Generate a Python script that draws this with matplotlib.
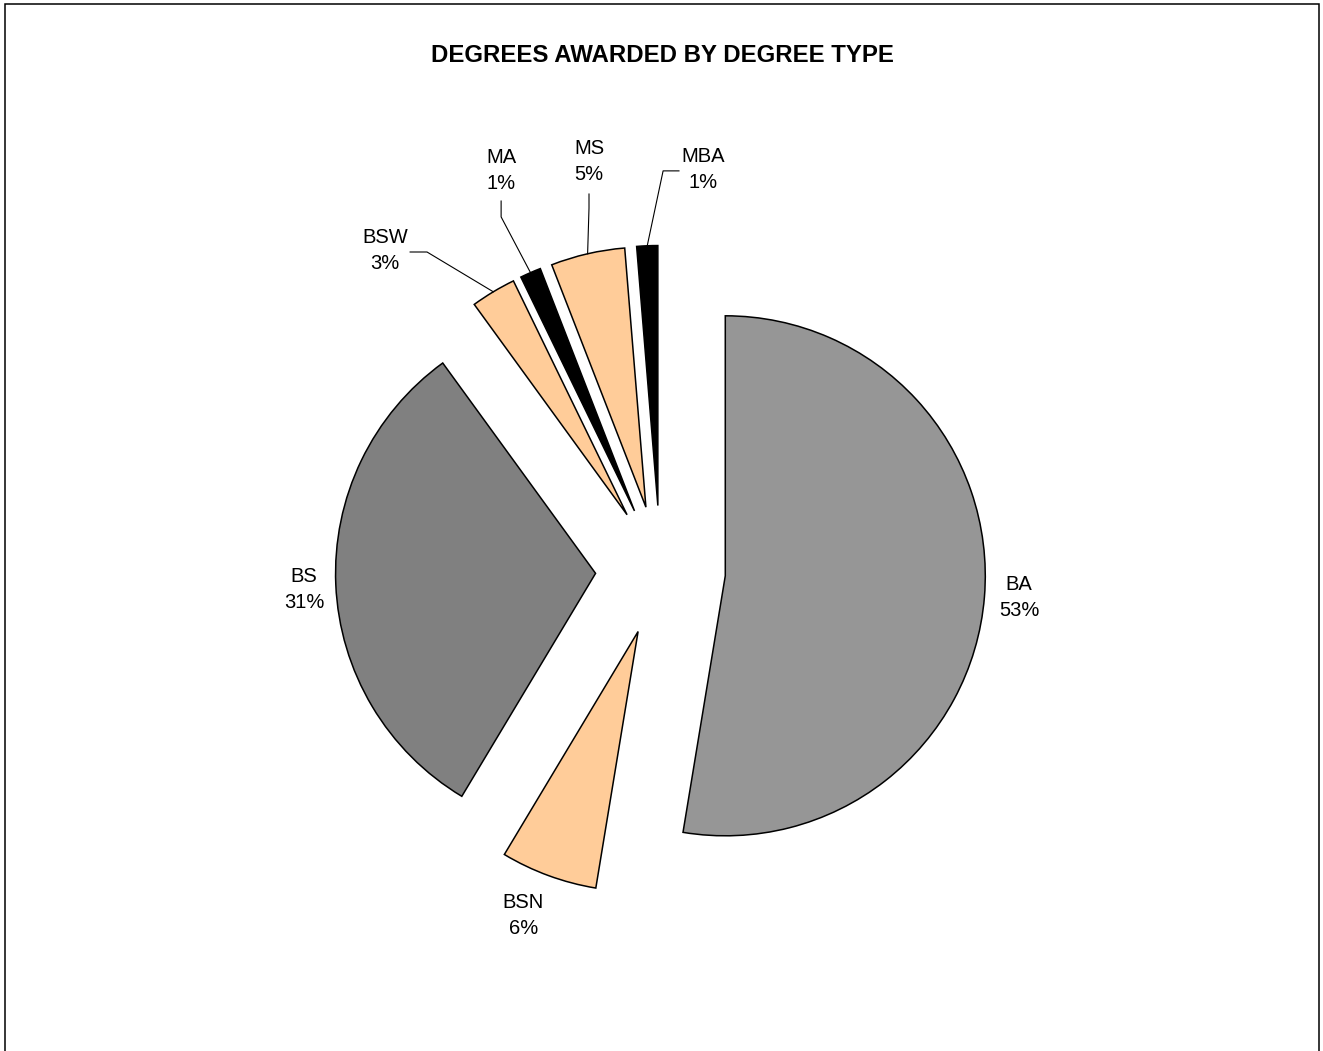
import math
import matplotlib
matplotlib.use("Agg")
import matplotlib.pyplot as plt
from matplotlib.patches import Rectangle

plt.rcParams['font.family'] = ['Liberation Sans', 'DejaVu Sans']

# degree types, clockwise from 12 o'clock
degrees = ["BA", "BSN", "BS", "BSW", "MA", "MS", "MBA"]
shares = [52.6, 6.0, 31.4, 2.8, 1.3, 4.6, 1.3]
pct_labels = ["53%", "6%", "31%", "3%", "1%", "5%", "1%"]
slice_colors = ["#969696", "#FFCC99", "#808080", "#FFCC99", "#000000", "#FFCC99", "#000000"]

# labels moved off the small slices: label centre, leader bend, leader end (data units)
moved = {
    "BSW": ((-1.060, 1.231), (-0.898, 1.225), (-0.963, 1.225)),
    "MA": ((-0.613, 1.538), (-0.613, 1.360), (-0.613, 1.421)),
    "MS": ((-0.275, 1.573), (-0.275, 1.394), (-0.275, 1.448)),
    "MBA": ((0.163, 1.542), (0.010, 1.537), (0.071, 1.537)),
}
# small hand nudges for the labels placed at the slice's mid angle
nudge = {"BSN": (-0.038, 0.008), "BS": (0.01, -0.012), "BA": (0.0, 0.008)}

fig = plt.figure(figsize=(13.23, 10.51), dpi=100)
ax = fig.add_axes([0, 0, 1, 1])

wedges, _ = ax.pie(shares, colors=slice_colors, explode=[0.25] * len(shares),
                   startangle=90, counterclock=False, radius=1,
                   wedgeprops=dict(edgecolor="black", linewidth=1.1))

for w, name, pct in zip(wedges, degrees, pct_labels):
    mid = math.radians((w.theta1 + w.theta2) / 2)
    cx, cy = w.center
    txt = name + "\n" + pct
    if name in moved:
        (lx, ly), bend, end = moved[name]
        sx, sy = cx + w.r * math.cos(mid), cy + w.r * math.sin(mid)
        ax.plot([sx, bend[0], end[0]], [sy, bend[1], end[1]], color="black", lw=0.8)
    else:
        d = 1.13 + 0.045 * abs(math.sin(mid))
        dx, dy = nudge.get(name, (0, 0))
        lx, ly = cx + d * math.cos(mid) + dx, cy + d * math.sin(mid) + dy
    ax.text(lx, ly, txt, ha="center", va="center", fontsize=14.5, linespacing=1.45)

ax.set_xlim(-660.5 / 260, (1323 - 660.5) / 260)
ax.set_ylim((570.5 - 1051) / 260, 570.5 / 260)
ax.set_aspect("auto")
ax.axis("off")

fig.text(662 / 1323, 1 - 56 / 1051, "DEGREES AWARDED BY DEGREE TYPE",
         ha="center", va="center", fontsize=17.3, fontweight="bold")

fig.add_artist(Rectangle((5 / 1323, -0.02), 1313.5 / 1323, 1.02 - 3.5 / 1051,
                         transform=fig.transFigure, fill=False,
                         edgecolor="black", linewidth=1.1))

fig.savefig("out.png", dpi=100)
